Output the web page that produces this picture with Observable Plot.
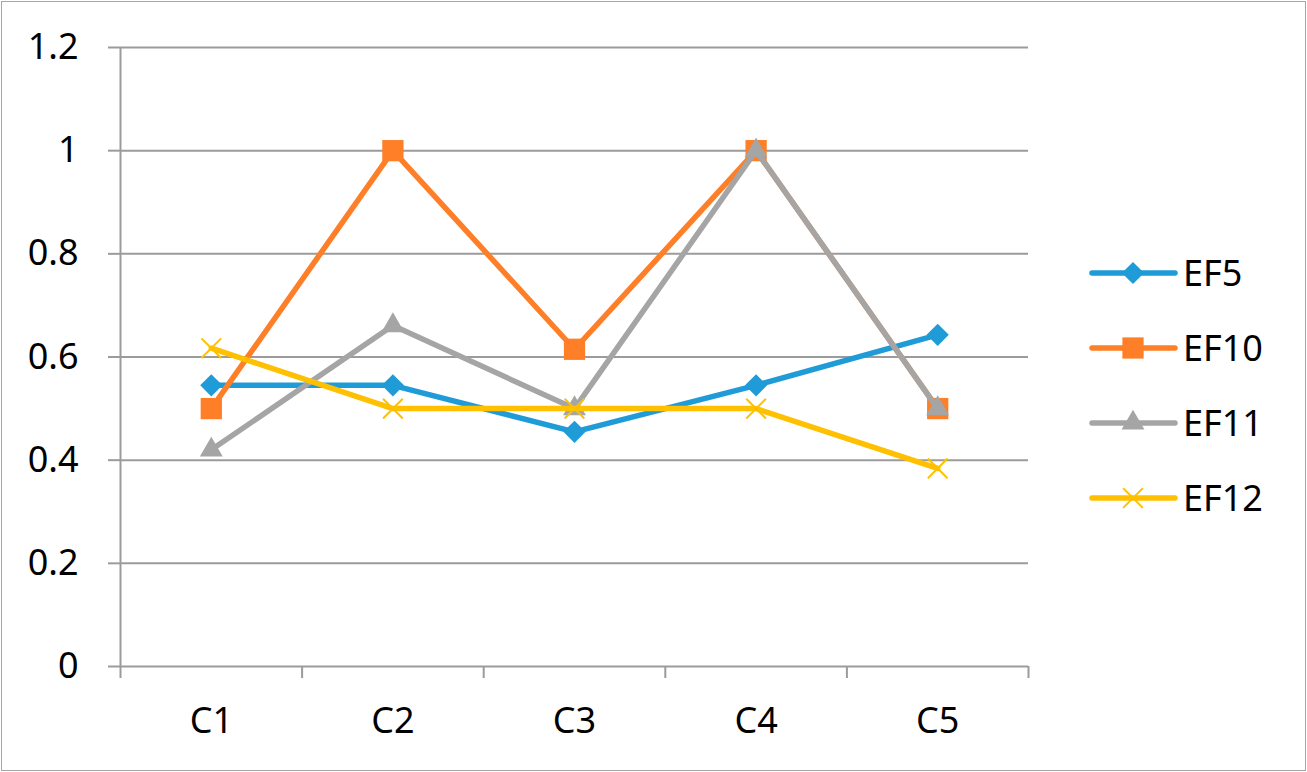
<!DOCTYPE html>
<html>
<head>
<meta charset="utf-8">
<script src="https://cdn.jsdelivr.net/npm/d3@7"></script>
<script src="https://cdn.jsdelivr.net/npm/@observablehq/plot@0.6"></script>
<style>
  html, body { margin: 0; padding: 0; background: #fff; }
  #wrap { position: relative; width: 1307px; height: 772px; overflow: hidden; }
  #border { position: absolute; left: 1px; top: 1px; width: 1303px; height: 768px; border: 1px solid #a6a6a6; pointer-events: none; }
  #legend { position: absolute; left: 0; top: 0; pointer-events: none; }
</style>
</head>
<body>
<div id="wrap"><div id="border"></div></div>
<script>
const categories = ["C1", "C2", "C3", "C4", "C5"];
const seriesNames = ["EF5", "EF10", "EF11", "EF12"];
const EF5  = [0.545, 0.545, 0.455, 0.545, 0.643];
const EF10 = [0.5, 1.0, 0.615, 1.0, 0.5];
const EF11 = [0.42, 0.661, 0.5, 1.0, 0.5];
const EF12 = [0.617, 0.5, 0.5, 0.5, 0.384];
const yTicks = [0, 0.2, 0.4, 0.6, 0.8, 1.0, 1.2];

const seriesValues = [EF5, EF10, EF11, EF12];
const colors = ["#1f9bd7", "#fe7f27", "#a5a5a5", "#ffc000"];
const symbols = ["diamond2", "square", "triangle", "times"];
const radii = [10, 12, 8.5, 9];

const rows = [];
seriesNames.forEach((s, si) => {
  categories.forEach((c, ci) => rows.push({series: s, cat: c, xi: ci + 0.5, v: seriesValues[si][ci]}));
});

const gridColor = "#9b9b9b";
const fontSize = 36;
const marks = [
  Plot.ruleY(yTicks.filter(d => d > 0), {y: d => d, stroke: gridColor, strokeWidth: 2}),
  Plot.ruleX([0], {x: d => d, y1: 0, y2: 1.2, stroke: gridColor, strokeWidth: 2}),
  Plot.ruleY([0], {y: d => d, stroke: gridColor, strokeWidth: 2}),
  Plot.axisY({ticks: yTicks, tickSize: 12, tickPadding: 30, tickFormat: d3.format("~g"), stroke: gridColor, strokeWidth: 2, fill: "#000", label: null}),
  Plot.axisX({ticks: d3.range(categories.length + 1), tickSize: 12, tickFormat: () => "", stroke: gridColor, strokeWidth: 2, label: null}),
  Plot.axisX({ticks: categories.map((_, i) => i + 0.5), tickSize: 0, tickPadding: 41, tickFormat: d => categories[Math.round(d - 0.5)], fill: "#000", label: null})
];

seriesNames.forEach((s, si) => {
  const data = rows.filter(r => r.series === s);
  marks.push(Plot.line(data, {x: "xi", y: "v", stroke: colors[si], strokeWidth: 5.5, strokeLinecap: "round", strokeLinejoin: "round"}));
  if (symbols[si] === "times") {
    marks.push(Plot.dot(data, {x: "xi", y: "v", symbol: "times", r: radii[si], stroke: colors[si], strokeWidth: 2, fill: "none"}));
  } else {
    marks.push(Plot.dot(data, {x: "xi", y: "v", symbol: symbols[si], r: radii[si], fill: colors[si], stroke: "none"}));
  }
});

const chart = Plot.plot({
  width: 1307,
  height: 772,
  marginLeft: 120,
  marginRight: 279,
  marginTop: 47,
  marginBottom: 106,
  style: {fontFamily: "'Noto Sans', sans-serif", fontSize: fontSize + "px", color: "#000", background: "transparent", overflow: "visible"},
  x: {type: "linear", domain: [0, categories.length], label: null},
  y: {type: "linear", domain: [0, 1.2], label: null},
  marks
});
document.getElementById("wrap").prepend(chart);

// Legend
const legendRowsY = [273, 348, 423, 498];
const lg = d3.select("#wrap").append("svg").attr("id", "legend").attr("width", 1307).attr("height", 772);
const symMap = {diamond2: d3.symbolDiamond2, square: d3.symbolSquare, triangle: d3.symbolTriangle, times: d3.symbolTimes};
seriesNames.forEach((s, i) => {
  const y = legendRowsY[i];
  const g = lg.append("g");
  g.append("line").attr("x1", 1092).attr("x2", 1175).attr("y1", y).attr("y2", y)
    .attr("stroke", colors[i]).attr("stroke-width", 5.5).attr("stroke-linecap", "round");
  const path = d3.symbol(symMap[symbols[i]], Math.PI * radii[i] * radii[i])();
  const p = g.append("path").attr("d", path).attr("transform", `translate(1133,${y})`);
  if (symbols[i] === "times") p.attr("fill", "none").attr("stroke", colors[i]).attr("stroke-width", 2);
  else p.attr("fill", colors[i]);
  g.append("text").attr("x", 1183).attr("y", y).attr("dy", "0.36em")
    .attr("font-family", "'Noto Sans', sans-serif").attr("font-size", fontSize).attr("fill", "#000").text(s);
});
</script>
</body>
</html>
